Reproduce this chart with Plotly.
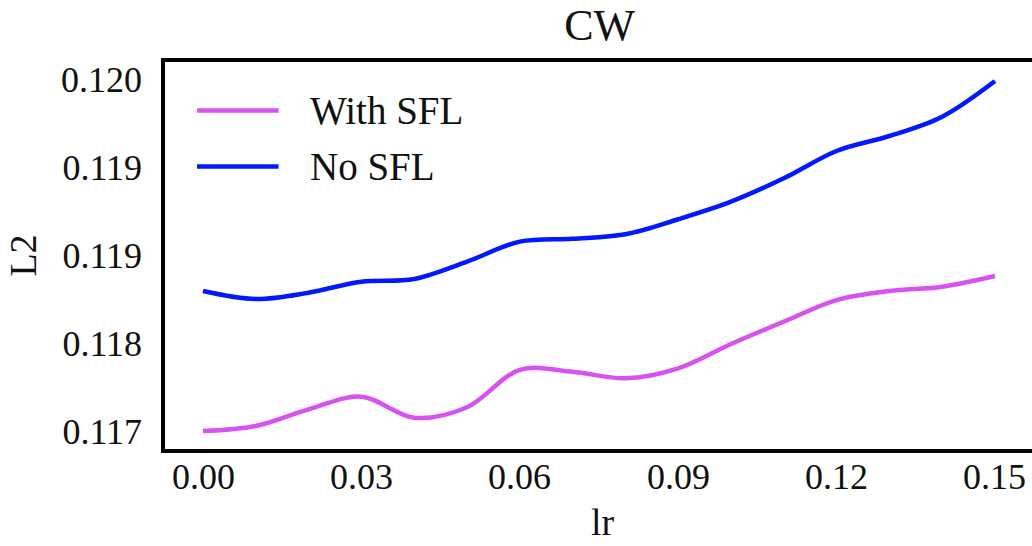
import plotly.graph_objects as go

# Learning rates sampled on the x axis
lr = [0.00, 0.01, 0.02, 0.03, 0.04, 0.05, 0.06, 0.07,
      0.08, 0.09, 0.10, 0.11, 0.12, 0.13, 0.14, 0.15]

# L2 error for each configuration
l2_with_sfl = [0.117003, 0.117046, 0.117188, 0.117296, 0.117117, 0.117206,
               0.117524, 0.117509, 0.117453, 0.117538, 0.117745, 0.117936,
               0.118120, 0.118197, 0.118234, 0.118325]
l2_no_sfl = [0.118197, 0.118129, 0.118183, 0.118277, 0.118300, 0.118447,
             0.118618, 0.118643, 0.118681, 0.118809, 0.118959, 0.119158,
             0.119391, 0.119519, 0.119684, 0.119988]

series_names = ["With SFL", "No SFL"]
series_colors = ["#D752EE", "#0019FF"]

x_ticks = [0.00, 0.03, 0.06, 0.09, 0.12, 0.15]
x_tick_text = ["0.00", "0.03", "0.06", "0.09", "0.12", "0.15"]
y_ticks = [0.11700, 0.11775, 0.11850, 0.11925, 0.12000]
y_tick_text = ["0.117", "0.118", "0.119", "0.119", "0.120"]

FONT = "Liberation Serif, Times New Roman, serif"
INK = "#111111"
TICK_SIZE = 36

fig = go.Figure()
for name, ys, color in zip(series_names, [l2_with_sfl, l2_no_sfl], series_colors):
    fig.add_trace(go.Scatter(
        x=lr, y=ys, mode="lines", name=name,
        line=dict(color=color, width=4.5, shape="spline", smoothing=1.0),
        showlegend=False,
    ))

# Legend drawn by hand so the sample lines are long
legend_rows = [0.875, 0.73]
for name, color, yrow in zip(series_names, series_colors, legend_rows):
    fig.add_shape(type="line", xref="paper", yref="paper",
                  x0=0.037, x1=0.131, y0=yrow, y1=yrow,
                  line=dict(color=color, width=4.5))
    fig.add_annotation(xref="paper", yref="paper", x=0.165, y=yrow,
                       text=name, showarrow=False, xanchor="left",
                       yanchor="middle",
                       font=dict(family=FONT, size=39, color=INK))

# x tick labels sit close under the axis line
for xv, label in zip(x_ticks, x_tick_text):
    fig.add_annotation(xref="x", yref="paper", x=xv, y=0, text=label,
                       showarrow=False, xanchor="center", yanchor="middle",
                       yshift=-28,
                       font=dict(family=FONT, size=TICK_SIZE, color=INK))
fig.add_annotation(xref="paper", yref="paper", x=0.505, y=0, text="lr",
                   showarrow=False, xanchor="center", yanchor="middle",
                   yshift=-73, font=dict(family=FONT, size=38, color=INK))

fig.update_layout(
    width=1032, height=546,
    margin=dict(l=165, r=0, t=62, b=97),
    paper_bgcolor="white", plot_bgcolor="white",
    font=dict(family=FONT, size=TICK_SIZE, color=INK),
    title=dict(text="CW", x=0.581, xanchor="center", y=0.955, yanchor="middle",
               font=dict(family=FONT, size=44, color=INK)),
)
fig.update_xaxes(
    range=[-0.0071970, 0.15701],
    tickvals=x_ticks, showticklabels=False,
    showgrid=False, zeroline=False,
    showline=True, linecolor="black", linewidth=3.5, mirror=True,
    ticks="",
)
fig.update_yaxes(
    range=[0.11685, 0.12015],
    tickvals=y_ticks, ticktext=y_tick_text,
    tickfont=dict(family=FONT, size=TICK_SIZE, color=INK),
    showgrid=False, zeroline=False,
    showline=True, linecolor="black", linewidth=3.5, mirror=False,
    ticks="", ticklabelstandoff=12,
    title=dict(text="L2", standoff=14, font=dict(family=FONT, size=38, color=INK)),
)

fig.write_html("out.html")
